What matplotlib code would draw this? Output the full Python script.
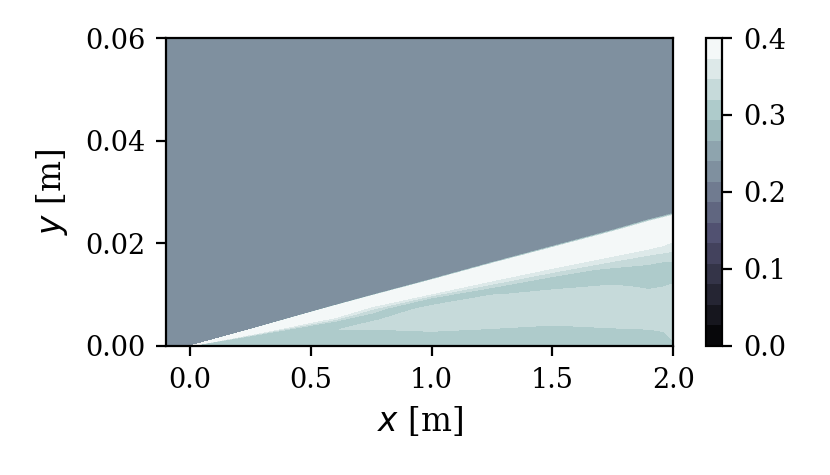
import numpy as np
import matplotlib
matplotlib.use("Agg")
import matplotlib.pyplot as plt

plt.rcParams['font.family'] = ['DejaVu Serif']
plt.rcParams['mathtext.fontset'] = 'dejavusans'

# x stations [m] and local shock height [m]
x_stations = [-0.1, 0.0, 0.25, 0.5, 0.6, 0.75, 1.0, 1.25, 1.5, 1.75, 1.9, 1.96, 2.0]
shock_height = [0.0, 0.0, 0.0032, 0.0065, 0.0078, 0.0097, 0.0128, 0.0160, 0.0191, 0.0222, 0.0242, 0.0249, 0.0254]
# normalized wall-normal rows (y / shock height)
eta_rows = [0.0, 0.1, 0.2, 0.3, 0.4, 0.5, 0.6, 0.7, 0.8, 0.9, 1.0, 1.02]
y_top = 0.06
freestream = 0.225

# field values per x station (bottom -> top along eta_rows)
col_m01 = [0.225] * 12
col_000 = [0.307, 0.307, 0.307, 0.307, 0.307, 0.307, 0.310, 0.375, 0.388, 0.390, 0.385, 0.225]
col_025 = [0.307, 0.307, 0.307, 0.307, 0.307, 0.307, 0.310, 0.375, 0.388, 0.390, 0.385, 0.225]
col_050 = [0.307, 0.307, 0.307, 0.307, 0.307, 0.307, 0.309, 0.372, 0.390, 0.390, 0.385, 0.225]
col_060 = [0.307, 0.307, 0.307, 0.307, 0.318, 0.307, 0.309, 0.372, 0.390, 0.390, 0.385, 0.225]
col_075 = [0.307, 0.307, 0.307, 0.315, 0.335, 0.318, 0.307, 0.330, 0.380, 0.388, 0.385, 0.225]
col_100 = [0.305, 0.307, 0.316, 0.333, 0.333, 0.333, 0.326, 0.292, 0.378, 0.388, 0.385, 0.225]
col_125 = [0.305, 0.310, 0.318, 0.333, 0.333, 0.333, 0.322, 0.312, 0.378, 0.388, 0.385, 0.225]
col_150 = [0.305, 0.307, 0.318, 0.333, 0.333, 0.333, 0.315, 0.315, 0.378, 0.388, 0.385, 0.225]
col_175 = [0.305, 0.310, 0.327, 0.333, 0.333, 0.327, 0.307, 0.322, 0.380, 0.388, 0.385, 0.225]
col_190 = [0.305, 0.313, 0.333, 0.333, 0.330, 0.312, 0.307, 0.330, 0.383, 0.388, 0.385, 0.225]
col_196 = [0.307, 0.318, 0.333, 0.333, 0.333, 0.312, 0.300, 0.333, 0.380, 0.388, 0.385, 0.225]
col_200 = [0.312, 0.330, 0.336, 0.333, 0.333, 0.316, 0.302, 0.338, 0.372, 0.385, 0.383, 0.225]

columns = [col_m01, col_000, col_025, col_050, col_060, col_075, col_100,
           col_125, col_150, col_175, col_190, col_196, col_200]

levels = np.linspace(0.0, 0.4, 16)
cbar_ticks = [0.0, 0.1, 0.2, 0.3, 0.4]
x_ticks = [0.0, 0.5, 1.0, 1.5, 2.0]
y_ticks = [0.00, 0.02, 0.04, 0.06]

# build curvilinear grid
xs = np.array(x_stations)
hs = np.array(shock_height)
eta = np.array(eta_rows)
Z = np.vstack([np.array(columns).T, np.full(len(xs), freestream)])
X = np.tile(xs, (len(eta) + 1, 1))
Y = np.vstack([np.outer(eta, hs), np.full(len(xs), y_top)])

fig = plt.figure(figsize=(8.3, 4.75), dpi=100)
ax = fig.add_axes([0.2, 0.2716, 0.611, 0.6484])
cax = fig.add_axes([0.8506, 0.2716, 0.0193, 0.6484])

cf = ax.contourf(X, Y, Z, levels=levels, cmap='bone')
ax.set_xlim(-0.1, 2.0)
ax.set_ylim(0.0, 0.06)
ax.set_xticks(x_ticks)
ax.set_xticklabels([f"{v:.1f}" for v in x_ticks])
ax.set_yticks(y_ticks)
ax.set_yticklabels([f"{v:.2f}" for v in y_ticks])
ax.set_xlabel(r"$x$ [m]", fontsize=23.5, labelpad=7)
ax.set_ylabel(r"$y$ [m]", fontsize=23.5, labelpad=11)
ax.tick_params(labelsize=19.5, length=7, width=1.6, pad=8)
for s in ax.spines.values():
    s.set_linewidth(1.6)

cb = fig.colorbar(cf, cax=cax, ticks=cbar_ticks)
cb.ax.set_yticklabels([f"{v:.1f}" for v in cbar_ticks])
cb.ax.tick_params(labelsize=19.5, length=7, width=1.6, pad=8)
cb.outline.set_linewidth(1.6)

fig.savefig("out.png", dpi=100)
